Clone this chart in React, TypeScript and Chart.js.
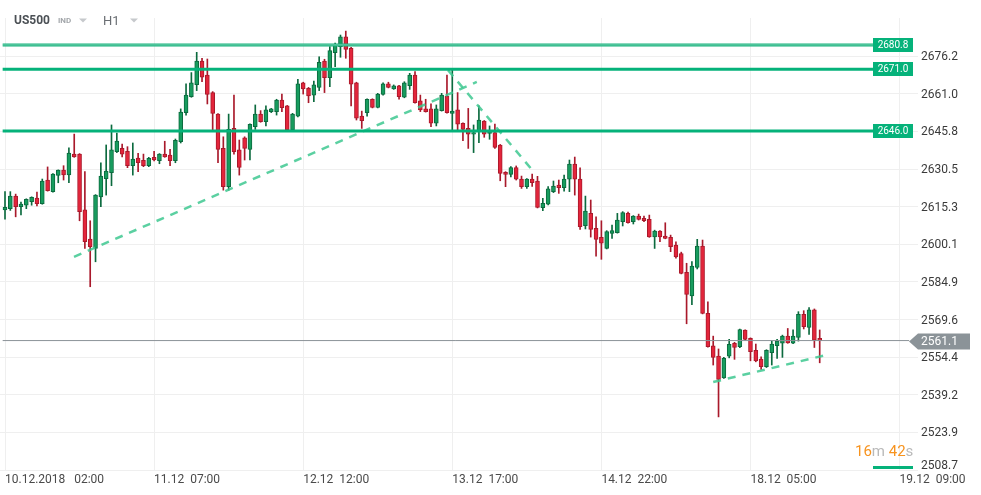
import React, { useEffect, useRef } from "react";
import { Chart, registerables } from "chart.js";

Chart.register(...registerables);

// ---- Data (hourly candles, index 0 = 10.12.2018 02:00) ----
const OPEN = [
  2614.0, 2614.5, 2619.6, 2615.3, 2615.9, 2617.3, 2618.8, 2616.5, 2626.1, 2621.4,
  2628.0, 2630.1, 2628.2, 2636.6, 2636.6, 2614.0, 2602.2, 2598.4, 2619.3, 2626.6,
  2629.1, 2637.6, 2638.9, 2637.7, 2631.9, 2635.0, 2634.1, 2631.9, 2635.3, 2633.9,
  2636.6, 2636.2, 2633.9, 2641.6, 2653.4, 2659.8, 2664.7, 2674.3, 2668.6, 2661.5,
  2652.8, 2638.9, 2623.4, 2647.0, 2638.3, 2643.2, 2638.5, 2647.7, 2652.8, 2649.7,
  2653.8, 2653.8, 2658.5, 2656.1, 2646.4, 2652.0, 2665.5, 2663.2, 2660.5, 2663.6,
  2674.3, 2667.5, 2677.7, 2680.1, 2684.1, 2679.4, 2665.5, 2652.0, 2653.4, 2658.8,
  2655.5, 2660.8, 2665.0, 2663.0, 2664.2, 2659.6, 2664.3, 2668.6, 2658.2, 2654.9,
  2654.9, 2649.1, 2654.2, 2660.1, 2653.1, 2654.5, 2649.1, 2647.0, 2644.7, 2645.7,
  2650.0, 2645.0, 2645.3, 2640.3, 2629.2, 2628.4, 2631.1, 2626.5, 2623.4, 2626.5,
  2625.7, 2614.9, 2616.3, 2621.4, 2624.1, 2623.0, 2626.4, 2632.6, 2626.5, 2607.6,
  2612.6, 2606.5, 2602.9, 2598.4, 2604.5, 2604.8, 2609.2, 2612.6, 2609.2, 2611.5,
  2610.6, 2610.2, 2603.1, 2605.4, 2603.4, 2602.9, 2599.8, 2596.3, 2588.7, 2579.2,
  2590.7, 2599.4, 2572.1, 2559.0, 2554.8, 2546.0, 2554.8, 2560.0, 2558.6, 2565.3,
  2562.0, 2557.2, 2553.6, 2550.5, 2556.2, 2559.0, 2560.0, 2562.9, 2560.0, 2562.4,
  2571.7, 2566.4, 2573.5, 2562.0,
];
const HIGH = [
  2621.4, 2621.4, 2620.4, 2617.2, 2618.5, 2619.3, 2621.2, 2626.5, 2631.4, 2628.7,
  2630.2, 2631.9, 2639.1, 2644.7, 2636.8, 2629.5, 2609.6, 2620.2, 2633.1, 2640.3,
  2648.4, 2645.1, 2640.7, 2639.6, 2641.1, 2636.9, 2636.6, 2635.3, 2637.7, 2636.8,
  2641.8, 2638.5, 2642.7, 2654.9, 2665.0, 2669.6, 2677.8, 2675.4, 2675.1, 2661.9,
  2653.0, 2643.6, 2652.8, 2660.5, 2642.3, 2643.6, 2648.9, 2656.5, 2654.2, 2656.1,
  2655.1, 2658.8, 2660.9, 2656.3, 2653.1, 2666.9, 2665.7, 2663.6, 2666.2, 2676.0,
  2675.0, 2680.1, 2681.5, 2684.8, 2686.4, 2679.8, 2665.7, 2654.0, 2659.0, 2659.0,
  2661.2, 2665.5, 2665.7, 2664.6, 2664.4, 2665.9, 2669.3, 2670.0, 2660.5, 2658.8,
  2656.9, 2656.5, 2661.2, 2668.6, 2670.6, 2661.5, 2649.3, 2655.1, 2648.4, 2656.1,
  2650.2, 2648.0, 2648.8, 2640.5, 2629.5, 2631.5, 2631.8, 2627.7, 2626.7, 2628.5,
  2627.6, 2618.7, 2623.4, 2625.7, 2626.1, 2628.1, 2634.2, 2635.4, 2631.0, 2619.6,
  2618.0, 2611.2, 2609.6, 2605.6, 2607.9, 2612.6, 2613.3, 2613.1, 2611.7, 2612.3,
  2611.5, 2611.9, 2605.8, 2605.6, 2608.8, 2603.8, 2601.1, 2596.9, 2592.4, 2593.1,
  2602.1, 2601.8, 2576.8, 2562.9, 2557.7, 2554.3, 2561.6, 2560.4, 2565.8, 2565.5,
  2562.2, 2559.7, 2554.5, 2557.4, 2560.9, 2561.6, 2563.3, 2566.0, 2565.4, 2572.8,
  2573.2, 2574.5, 2573.9, 2565.4,
];
const LOW = [
  2610.3, 2613.8, 2611.2, 2612.0, 2614.5, 2615.9, 2615.6, 2616.3, 2621.6, 2621.2,
  2625.0, 2626.1, 2625.0, 2635.3, 2609.6, 2598.4, 2582.9, 2593.0, 2615.3, 2620.0,
  2623.8, 2637.2, 2635.5, 2631.1, 2628.1, 2629.5, 2631.5, 2631.5, 2633.8, 2632.7,
  2635.3, 2631.9, 2633.1, 2641.1, 2652.4, 2659.6, 2662.3, 2665.9, 2656.9, 2646.3,
  2633.1, 2622.0, 2622.0, 2636.6, 2628.1, 2634.2, 2634.2, 2646.6, 2649.5, 2648.0,
  2653.4, 2652.4, 2653.8, 2646.2, 2646.2, 2651.7, 2660.9, 2657.4, 2657.8, 2662.3,
  2661.5, 2663.9, 2672.0, 2675.8, 2675.4, 2656.1, 2650.4, 2647.0, 2652.0, 2655.3,
  2655.3, 2660.5, 2663.4, 2662.8, 2658.8, 2659.4, 2662.8, 2657.2, 2653.8, 2653.6,
  2647.7, 2648.0, 2654.0, 2653.2, 2646.4, 2646.4, 2642.0, 2638.9, 2637.2, 2641.2,
  2643.4, 2642.6, 2638.9, 2625.8, 2623.4, 2627.4, 2626.1, 2622.7, 2622.7, 2623.5,
  2614.8, 2613.7, 2616.0, 2621.0, 2620.7, 2621.6, 2621.4, 2620.0, 2606.1, 2606.3,
  2603.0, 2595.3, 2594.0, 2598.2, 2602.5, 2604.6, 2607.5, 2608.6, 2608.3, 2609.9,
  2609.2, 2602.9, 2598.4, 2601.1, 2602.3, 2597.1, 2594.5, 2588.1, 2567.9, 2575.6,
  2590.1, 2571.9, 2558.4, 2551.2, 2530.2, 2545.8, 2554.1, 2553.5, 2558.2, 2561.4,
  2552.9, 2552.5, 2549.4, 2550.2, 2551.2, 2553.9, 2554.3, 2560.0, 2559.8, 2560.9,
  2565.8, 2563.6, 2558.3, 2552.1,
];
const CLOSE = [
  2615.0, 2619.6, 2615.3, 2616.4, 2618.3, 2619.1, 2616.5, 2625.7, 2621.8, 2628.5,
  2630.1, 2628.2, 2637.0, 2635.5, 2613.3, 2601.1, 2599.1, 2620.0, 2627.7, 2629.7,
  2638.3, 2641.9, 2636.6, 2631.9, 2634.6, 2633.1, 2631.9, 2634.9, 2634.2, 2636.6,
  2635.5, 2633.9, 2642.2, 2653.6, 2660.5, 2665.5, 2674.3, 2667.7, 2660.8, 2653.1,
  2638.5, 2623.4, 2646.6, 2637.6, 2631.2, 2638.9, 2648.7, 2652.8, 2649.7, 2654.5,
  2654.9, 2658.5, 2655.4, 2646.4, 2652.8, 2665.0, 2663.0, 2660.2, 2664.6, 2673.8,
  2667.5, 2678.5, 2680.8, 2684.1, 2679.0, 2664.9, 2651.1, 2650.1, 2658.8, 2655.5,
  2660.9, 2665.0, 2663.6, 2664.2, 2659.8, 2665.5, 2668.6, 2657.4, 2654.5, 2653.8,
  2649.1, 2654.9, 2660.5, 2653.4, 2654.0, 2648.7, 2646.6, 2644.7, 2645.3, 2650.4,
  2644.7, 2645.7, 2639.3, 2628.8, 2628.4, 2631.1, 2626.4, 2623.4, 2626.5, 2625.0,
  2615.0, 2616.7, 2622.5, 2623.7, 2623.0, 2626.5, 2632.6, 2626.4, 2607.2, 2613.5,
  2606.1, 2602.1, 2600.5, 2605.2, 2605.6, 2609.9, 2612.9, 2608.8, 2611.5, 2610.2,
  2609.6, 2603.1, 2605.4, 2603.1, 2602.5, 2599.1, 2595.0, 2588.3, 2579.8, 2591.3,
  2599.4, 2572.1, 2558.6, 2554.3, 2545.4, 2553.9, 2559.6, 2558.3, 2565.6, 2561.6,
  2556.6, 2552.9, 2550.5, 2557.2, 2559.7, 2560.9, 2562.9, 2560.2, 2562.9, 2571.7,
  2566.7, 2573.5, 2561.3, 2561.1,
];

const Y_TICKS = [2676.2, 2661.0, 2645.8, 2630.5, 2615.3, 2600.1, 2584.9, 2569.6, 2554.4, 2539.2, 2523.9, 2508.7];
const X_TICK_INDEX = [0, 28, 56, 84, 112, 140, 168];
const X_TICK_LABELS = ["10.12.2018   02:00", "11.12  07:00", "12.12  12:00", "13.12  17:00", "14.12  22:00", "18.12  05:00", "19.12  09:00"];

const LEVELS = [2680.8, 2671.0, 2646.0];
const LAST_PRICE = 2561.1;

// trend lines: [x1, y1, x2, y2] in (candle index, price)
const TREND_1 = [12.96, 2595.0, 88.6, 2665.8];
const TREND_2 = [83.2, 2670.6, 99.5, 2628.9];
const TREND_3 = [133.0, 2544.3, 154.9, 2555.6];

const TIMER_MIN = "16";
const TIMER_SEC = "42";

// ---- axis range ----
const X_MIN = -0.94;
const X_MAX = 171.46;
const Y_MIN = 2508.7;
const Y_MAX = 2691.7;
const LINE_END = 170.5;
const PRICE_LINE_END = 169.8;

const GREEN_FILL = "#179c5e";
const GREEN_EDGE = "#0b6a3e";
const RED_FILL = "#e3253b";
const RED_EDGE = "#a9192b";
const LEVEL_GREEN = "#05b27a";

export default function App() {
  const ref = useRef<HTMLCanvasElement | null>(null);

  useEffect(() => {
    if (!ref.current) return;
    const up = OPEN.map((o, i) => CLOSE[i] >= o);
    const wickData = OPEN.map((_, i) => ({ x: i, y: [LOW[i], HIGH[i]] }));
    const bodyData = OPEN.map((o, i) => ({ x: i, y: [o, CLOSE[i]] }));
    const hline = (v: number, end: number) => [
      { x: X_MIN + 0.5, y: v },
      { x: end, y: v },
    ];
    const seg = (t: number[]) => [
      { x: t[0], y: t[1] },
      { x: t[2], y: t[3] },
    ];

    const overlay = {
      id: "overlay",
      afterDraw(chart: any) {
        const ctx = chart.ctx as CanvasRenderingContext2D;
        const ys = chart.scales.y;
        const area = chart.chartArea;
        ctx.save();
        // level tags
        LEVELS.forEach((lv) => {
          const y = ys.getPixelForValue(lv);
          ctx.fillStyle = LEVEL_GREEN;
          ctx.fillRect(area.right - 45, Math.round(y) - 7, 40, 14);
          ctx.fillStyle = "#ffffff";
          ctx.font = "10px Roboto";
          ctx.textAlign = "center";
          ctx.textBaseline = "middle";
          ctx.fillText(lv.toFixed(1), area.right - 25, Math.round(y) + 0.5);
        });
        // last price tag
        const py = Math.round(ys.getPixelForValue(LAST_PRICE)) + 0.5;
        const tip = area.right - 9;
        ctx.fillStyle = "#8b9398";
        ctx.beginPath();
        ctx.moveTo(tip, py);
        ctx.lineTo(area.right, py - 8);
        ctx.lineTo(area.right + 52, py - 8);
        ctx.lineTo(area.right + 52, py + 8);
        ctx.lineTo(area.right, py + 8);
        ctx.closePath();
        ctx.fill();
        ctx.fillStyle = "#ffffff";
        ctx.font = "12px Roboto";
        ctx.textAlign = "left";
        ctx.textBaseline = "middle";
        ctx.fillText(LAST_PRICE.toFixed(1), area.right + 3, py + 0.5);
        // bottom y label (lifted)
        ctx.fillStyle = "#3a3a3a";
        ctx.fillText(Y_TICKS[Y_TICKS.length - 1].toFixed(1), area.right + 3, ys.getPixelForValue(Y_MIN) - 4);
        // timer
        ctx.font = "15px Roboto";
        ctx.textBaseline = "alphabetic";
        let x = area.right - 63;
        const parts: [string, string][] = [
          [TIMER_MIN, "#f7931e"],
          ["m ", "#b9b9b9"],
          [TIMER_SEC, "#f7931e"],
          ["s", "#b9b9b9"],
        ];
        parts.forEach(([t, c]) => {
          ctx.fillStyle = c;
          ctx.fillText(t, x, 456);
          x += ctx.measureText(t).width;
        });
        ctx.fillStyle = LEVEL_GREEN;
        ctx.fillRect(area.right - 45, 466, 40, 3);
        // header
        ctx.textBaseline = "alphabetic";
        ctx.fillStyle = "#4b5055";
        ctx.font = "bold 12px Roboto";
        ctx.fillText("US500", 14, 24);
        ctx.fillStyle = "#a3a7ab";
        ctx.font = "bold 8px Roboto";
        ctx.fillText("IND", 58, 23);
        ctx.fillStyle = "#6a6e73";
        ctx.font = "13px Roboto";
        ctx.fillText("H1", 103, 24.5);
        ctx.fillStyle = "#c6c9cc";
        [79, 130].forEach((tx) => {
          ctx.beginPath();
          ctx.moveTo(tx, 18.5);
          ctx.lineTo(tx + 8, 18.5);
          ctx.lineTo(tx + 4, 22.5);
          ctx.closePath();
          ctx.fill();
        });
        ctx.restore();
      },
    };

    const chart = new Chart(ref.current, {
      type: "bar",
      data: {
        datasets: [
          {
            type: "line",
            data: hline(LEVELS[0], LINE_END),
            borderColor: "#17b27c",
            borderWidth: 3,
            pointRadius: 0,
            order: 1,
          } as any,
          {
            type: "line",
            data: hline(LEVELS[0], LINE_END),
            borderColor: "rgba(255,255,255,0.4)",
            borderWidth: 1,
            pointRadius: 0,
            order: 0,
          } as any,
          {
            type: "line",
            data: hline(LEVELS[1], LINE_END),
            borderColor: LEVEL_GREEN,
            borderWidth: 3,
            pointRadius: 0,
            order: 1,
          } as any,
          {
            type: "line",
            data: hline(LEVELS[2], LINE_END),
            borderColor: LEVEL_GREEN,
            borderWidth: 3,
            pointRadius: 0,
            order: 1,
          } as any,
          {
            type: "line",
            data: hline(LAST_PRICE, PRICE_LINE_END),
            borderColor: "#8b9398",
            borderWidth: 1,
            pointRadius: 0,
            order: 2,
          } as any,
          ...[TREND_1, TREND_2, TREND_3].map(
            (t) =>
              ({
                type: "line",
                data: seg(t),
                borderColor: "rgba(62,200,145,0.85)",
                borderWidth: 2.5,
                borderDash: [8, 7],
                pointRadius: 0,
                order: 1,
              } as any)
          ),
          {
            type: "bar",
            data: wickData,
            backgroundColor: up.map((u) => (u ? GREEN_EDGE : RED_EDGE)),
            borderWidth: 0,
            barThickness: 1,
            grouped: false,
            order: 6,
          } as any,
          {
            type: "bar",
            data: bodyData,
            backgroundColor: up.map((u) => (u ? GREEN_FILL : RED_FILL)),
            borderColor: up.map((u) => (u ? GREEN_EDGE : RED_EDGE)),
            borderWidth: 1,
            borderSkipped: false,
            barThickness: 4,
            minBarLength: 1.5,
            grouped: false,
            order: 5,
          } as any,
        ],
      },
      options: {
        animation: false,
        responsive: false,
        devicePixelRatio: 1,
        layout: { padding: { top: 18, left: 0, right: 0, bottom: 0 } },
        plugins: { legend: { display: false }, tooltip: { enabled: false } },
        scales: {
          x: {
            type: "linear",
            min: X_MIN,
            max: X_MAX,
            offset: false,
            afterBuildTicks: (s: any) => {
              s.ticks = X_TICK_INDEX.map((v) => ({ value: v }));
            },
            afterFit: (s: any) => {
              s.height = 25;
            },
            border: { display: false },
            grid: { color: "#efefef", drawTicks: false, lineWidth: 1, offset: false },
            ticks: {
              align: "start",
              maxRotation: 0,
              autoSkip: false,
              padding: 3,
              color: "#4a4a4a",
              font: { family: "Roboto", size: 12 },
              callback: (v: any) => {
                const k = X_TICK_INDEX.indexOf(Number(v));
                return k >= 0 ? X_TICK_LABELS[k] : "";
              },
            },
          },
          y: {
            type: "linear",
            position: "right",
            min: Y_MIN,
            max: Y_MAX,
            afterBuildTicks: (s: any) => {
              s.ticks = Y_TICKS.map((v) => ({ value: v }));
            },
            afterFit: (s: any) => {
              s.width = 63;
            },
            border: { display: false },
            grid: { color: "#efefef", drawTicks: false, lineWidth: 1 },
            ticks: {
              padding: 3,
              labelOffset: 1,
              color: "#3a3a3a",
              font: { family: "Roboto", size: 12 },
              callback: (v: any) =>
                Number(v) === Y_TICKS[Y_TICKS.length - 1] ? "" : Number(v).toFixed(1),
            },
          },
        },
      } as any,
      plugins: [overlay],
    });
    return () => chart.destroy();
  }, []);

  return (
    <div style={{ position: "absolute", left: 0, top: 0, width: 981, height: 495, background: "#fff" }}>
      <canvas ref={ref} width={981} height={495} style={{ display: "block" }} />
    </div>
  );
}
